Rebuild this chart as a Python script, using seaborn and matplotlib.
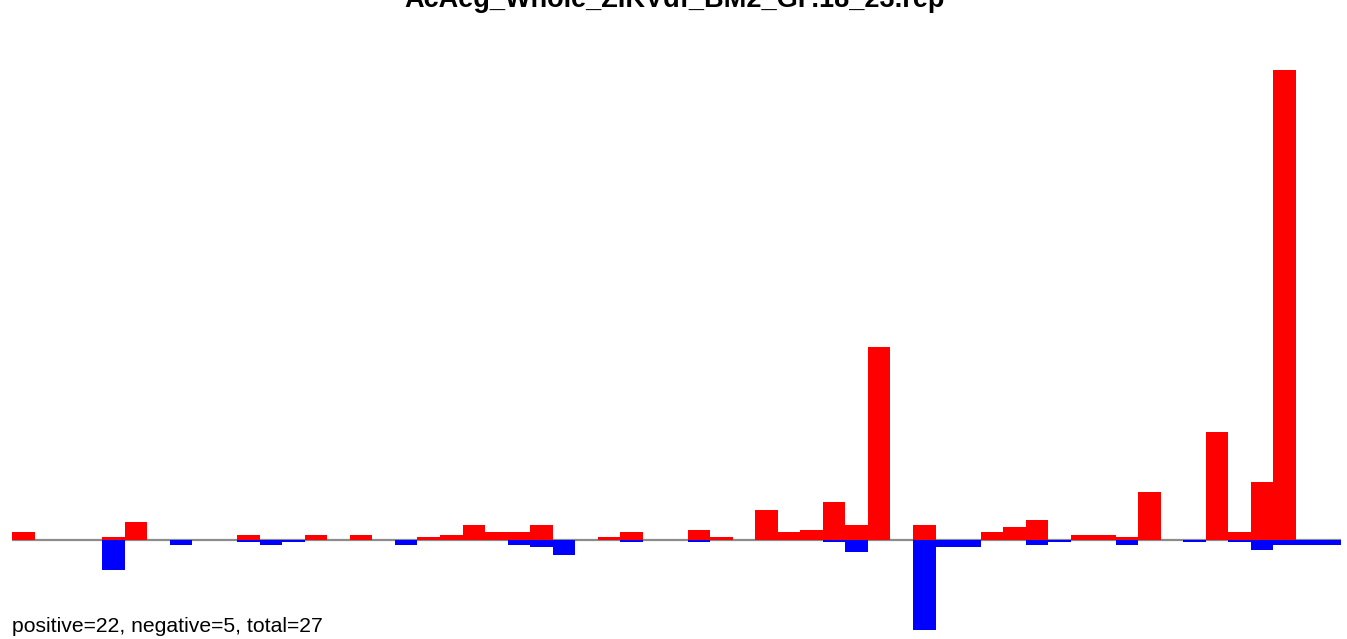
import numpy as np
import pandas as pd
import seaborn as sns
import matplotlib.pyplot as plt

title = "AcAeg_Whole_ZIKVdf_BM2_GF.18_23.rep"
summary = "positive=22, negative=5, total=27"

n_bins = 59
pos_bins = [0, 4, 5, 10, 13, 15, 18, 19, 20, 21, 22, 23, 26, 27, 30, 31, 33, 34, 35, 36,
            37, 38, 40, 43, 44, 45, 47, 48, 49, 50, 53, 54, 55, 56]
pos_vals = [3, 1, 7, 2, 2, 2, 1, 2, 6, 3, 3, 6, 1, 3, 4, 1, 12, 3, 4, 15,
            6, 77, 6, 3, 5, 8, 2, 2, 1, 19, 43, 3, 23, 188]
neg_bins = [4, 7, 10, 11, 12, 17, 22, 23, 24, 27, 30, 36, 37, 40, 41, 42, 45, 46, 49,
            52, 54, 55, 56, 57, 58]
neg_vals = [-12, -2, -1, -2, -1, -2, -2, -3, -6, -1, -1, -1, -5, -36, -3, -3, -2, -1, -2,
            -1, -1, -4, -2, -2, -2]

pos = np.zeros(n_bins)
pos[pos_bins] = pos_vals
neg = np.zeros(n_bins)
neg[neg_bins] = neg_vals
df = pd.DataFrame({'bin': np.arange(n_bins), 'pos': pos, 'neg': neg})

sns.set_style("white")
plt.rcParams['font.family'] = ['Liberation Sans', 'DejaVu Sans']
plt.rcParams['text.color'] = 'black'

fig = plt.figure(figsize=(13.47, 6.39), dpi=100)
ax = fig.add_axes([0, 0, 1, 1])

ax.hlines(0, -0.5, n_bins - 0.5, color='#8c8c8c', lw=1.6, zorder=0)
sns.barplot(data=df, x='bin', y='pos', color='#ff0000', saturation=1, width=1,
            linewidth=0, ax=ax, zorder=2)
sns.barplot(data=df, x='bin', y='neg', color='#0000ff', saturation=1, width=1,
            linewidth=0, ax=ax, zorder=2)

# pixel mapping: bin 0 starts at x=12px, 22.525 px per bin; baseline at y=539.5px, 2.5 px per unit
ax.set_xlim(-0.5 - 12 / 22.525, n_bins - 0.5 + 6 / 22.525)
ax.set_ylim(-(639 - 539.5) / 2.5, 539.5 / 2.5)
ax.axis('off')

# title sits partly above the top edge, as in the original
fig.text(675 / 1347, 1 - 7 / 639, title, ha='center', va='baseline',
         fontsize=19.5, fontweight='bold', color='black')
fig.text(12 / 1347, 1 - 631.5 / 639, summary, ha='left', va='baseline',
         fontsize=15.2, color='black')

fig.savefig('out.png', dpi=100)
